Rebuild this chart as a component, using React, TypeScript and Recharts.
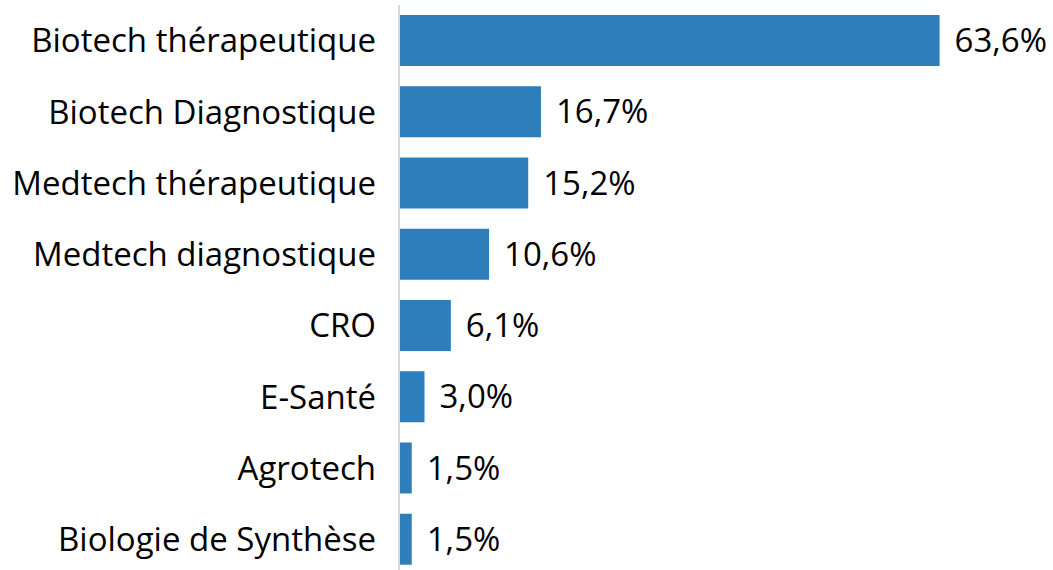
import { BarChart, Bar, XAxis, YAxis, LabelList } from 'recharts'

const categories = [
  'Biotech thérapeutique',
  'Biotech Diagnostique',
  'Medtech thérapeutique',
  'Medtech diagnostique',
  'CRO',
  'E-Santé',
  'Agrotech',
  'Biologie de Synthèse',
]

const shares = [63.6, 16.7, 15.2, 10.6, 6.1, 3.0, 1.5, 1.5]

const data = categories.map((name, i) => ({ name, value: shares[i] }))

const FONT = '"Open Sans", sans-serif'
const BLUE = '#2e7ebb'

const formatPct = (v: number) => v.toFixed(1).replace('.', ',') + '%'

export default function App() {
  return (
    <div
      style={{
        position: 'absolute',
        top: 0,
        left: 0,
        width: 1053,
        height: 570,
        overflow: 'hidden',
        background: '#fff',
      }}
    >
      <BarChart
        width={1053}
        height={575}
        data={data}
        layout="vertical"
        barCategoryGap="14%"
        margin={{ top: 5, right: 59, bottom: 0, left: 0 }}
      >
        <XAxis type="number" domain={[0, 70]} hide />
        <YAxis
          type="category"
          dataKey="name"
          width={399}
          axisLine={{ stroke: '#d9d9d9', strokeWidth: 2 }}
          tickLine={false}
          tickSize={0}
          tickMargin={23}
          tick={{ fontSize: 33, fill: '#000', fontFamily: FONT }}
          interval={0}
        />
        <Bar dataKey="value" fill={BLUE} isAnimationActive={false}>
          <LabelList
            dataKey="value"
            position="right"
            offset={15}
            formatter={(v: any) => formatPct(Number(v))}
            style={{ fontSize: 33, fill: '#000', fontFamily: FONT }}
          />
        </Bar>
      </BarChart>
    </div>
  )
}
